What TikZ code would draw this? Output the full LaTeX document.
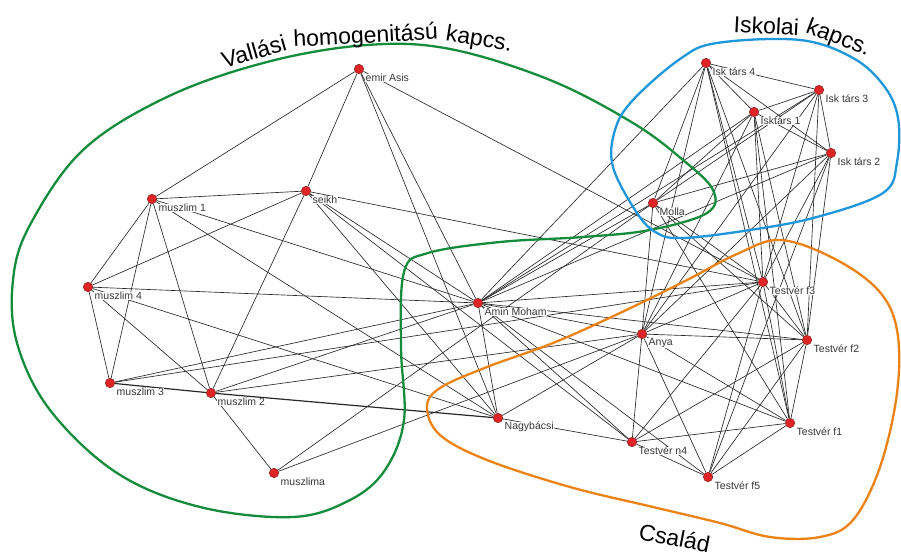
\documentclass[tikz,border=0pt]{standalone}
\usepackage{fontspec}
\setmainfont{Liberation Sans}
\usetikzlibrary{backgrounds}
\definecolor{nodered}{RGB}{222,36,36}
\definecolor{nodeedge}{RGB}{120,20,20}
\definecolor{tiegray}{RGB}{40,40,40}
\definecolor{taggray}{RGB}{55,55,55}
\definecolor{hullgreen}{RGB}{20,140,60}
\definecolor{hullblue}{RGB}{30,150,220}
\definecolor{hullorange}{RGB}{235,130,20}
% an actor: red dot plus its name set to the lower right
\newcommand\person[4]{%
  \node[actor] (#1) at (#2,#3) {};
  \node[tag] (#1-tag) at (#2+6,#3+9) {#4};}
\begin{document}
\begin{tikzpicture}[x=1pt,y=-1pt,
  actor/.style={circle,fill=nodered,draw=nodeedge,line width=0.4pt,minimum size=9.5pt,inner sep=0pt},
  tag/.style={anchor=west,font=\fontsize{10.5}{10.5}\selectfont,text=taggray,fill=white,inner sep=0.5pt},
  tie/.style={draw=tiegray,line width=0.65pt},
  strongtie/.style={draw=tiegray,line width=1.2pt},
  hull/.style={line width=2.3pt},
  title/.style={anchor=base,inner sep=0pt,font=\fontsize{23}{23}\selectfont}]
\useasboundingbox (0,0) rectangle (901,556);

% religious group
\person{emir}{359}{69}{emir Asis}
\person{m1}{152}{199}{muszlim 1}
\person{seikh}{306}{191}{seikh}
\person{m4}{88}{287}{muszlim 4}
\person{m3}{110}{383}{muszlim 3}
\person{m2}{211}{393}{muszlim 2}
\person{mma}{274}{473}{muszlima}
\person{amin}{478}{303}{Amin Moham}
\person{nagy}{498}{418}{Nagybácsi}
% family
\person{anya}{642}{334}{Anya}
\person{n4}{632}{442}{Testvér n4}
\person{f5}{708}{477}{Testvér f5}
\person{f1}{790}{423}{Testvér f1}
\person{f2}{807}{340}{Testvér f2}
\person{f3}{763}{282}{Testvér f3}
% school
\person{molla}{653}{203}{Molla}
\person{i4}{706}{63}{Isk társ 4}
\person{i3}{819}{90}{Isk társ 3}
\person{i1}{754}{112}{Isktárs 1}
\person{i2}{831}{153}{Isk társ 2}

\begin{scope}[on background layer]
  \foreach \a/\b in {emir/m1, emir/seikh, emir/amin, emir/nagy, emir/f3,
      m1/seikh, m1/m4, m1/m3, m1/m2, m1/amin, m1/nagy,
      seikh/m4, seikh/m2, seikh/amin, seikh/nagy, seikh/n4, seikh/f3,
      m4/m3, m4/m2, m4/amin, m4/nagy,
      m3/amin, m3/f3,
      m2/mma, m2/amin, m2/anya,
      mma/molla, mma/anya,
      amin/i4, amin/i1, amin/i3, amin/i2, amin/molla, amin/f3, amin/f2,
      amin/anya, amin/f1, amin/n4, amin/nagy, amin/f5,
      anya/molla, anya/i4, anya/i1, anya/i3, anya/i2, anya/f3, anya/f2,
      anya/n4, anya/f5, anya/f1, anya/nagy,
      nagy/n4,
      f3/i4, f3/i1, f3/i3, f3/i2, f3/molla, f3/f2, f3/f1, f3/n4, f3/f5,
      f2/i3, f2/i2, f2/i4, f2/i1, f2/molla, f2/f1, f2/n4, f2/f5,
      f1/n4, f1/f5, f1/i4, f1/molla, f1/i1,
      n4/f5, f5/i2,
      i4/i3, i4/i1, i4/i2, i1/i3, i1/i2, i3/i2,
      molla/i4, molla/i1, molla/i3, molla/i2}
    \draw[tie] (\a) -- (\b);
  \draw[strongtie] (m3) -- (m2);
  \draw[strongtie] (m2) -- (nagy);
\end{scope}

% group outlines
\draw[hull,hullgreen] plot[smooth cycle,tension=0.6] coordinates {
  (367,45) (450,49) (550,80) (633,123) (683,160) (713,190) (707,213)
  (650,230) (583,237) (500,242) (428,253) (404,272) (401,347) (404,420)
  (385,470) (350,500) (293,517) (200,507) (117,473) (50,410) (17,343)
  (13,280) (30,225) (83,150) (167,97) (267,62)};
\draw[hull,hullblue] plot[smooth cycle,tension=0.6] coordinates {
  (717,43) (800,40) (853,58) (884,86) (898,118) (897,162) (883,193)
  (817,217) (750,230) (683,238) (657,233) (637,213) (613,167) (615,130)
  (633,100) (680,59)};
\draw[hull,hullorange] plot[smooth cycle,tension=0.6] coordinates {
  (780,240) (833,258) (878,290) (897,330) (897,393) (880,467) (853,520)
  (820,537) (770,537) (720,523) (653,507) (570,487) (487,460) (440,435)
  (427,407) (440,388) (487,367) (553,343) (620,313) (687,280) (737,254)};

% group titles, word by word along the outlines
\node[title,rotate=16] (rel-a) at (256,59) {Vallási};
\node[title,rotate=3]  (rel-b) at (366,43) {homogenitású};
\node[title,rotate=-9] (rel-c) at (478,46) {kapcs.};
\node[title,rotate=-3] (sch-a) at (766,34) {Iskolai};
\node[title,rotate=-21] (sch-b) at (836,44) {kapcs.};
\node[title,rotate=-11] (fam) at (673,546) {Család};
\end{tikzpicture}
\end{document}
